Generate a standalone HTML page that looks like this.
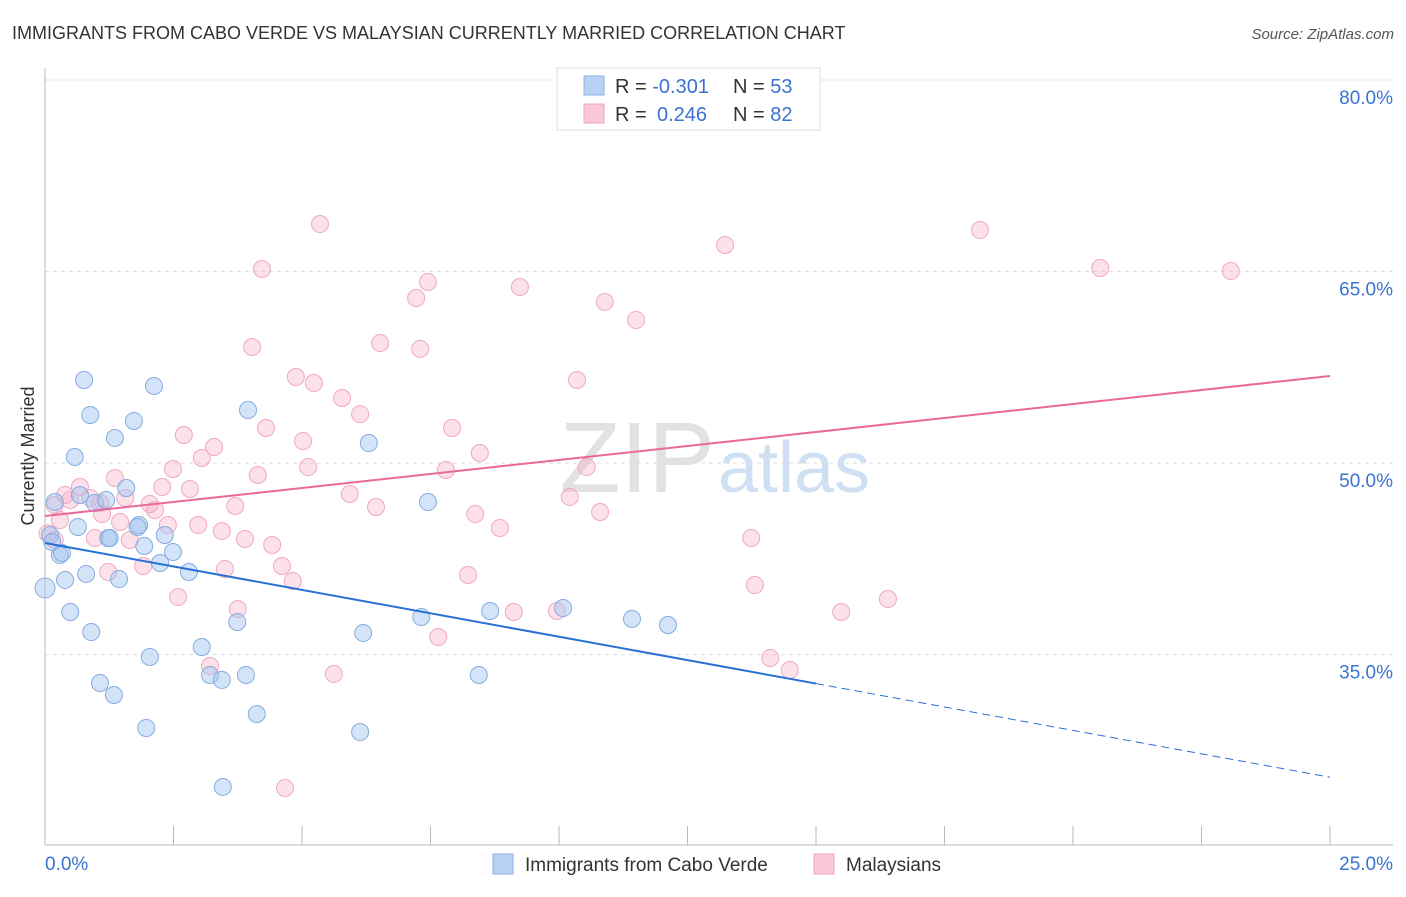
<!DOCTYPE html>
<html><head><meta charset="utf-8"><style>
body{margin:0;background:#fff;font-family:"Liberation Sans",sans-serif;}
svg text{font-family:"Liberation Sans",sans-serif;}
</style></head><body>
<svg id="chart" width="1406" height="892" xmlns="http://www.w3.org/2000/svg">
<text x="12" y="39" font-size="18" fill="#333">IMMIGRANTS FROM CABO VERDE VS MALAYSIAN CURRENTLY MARRIED CORRELATION CHART</text>
<text x="1394" y="39" font-size="15" fill="#555" font-style="italic" text-anchor="end">Source: ZipAtlas.com</text>
<text x="715" y="492" font-size="100" fill="#e2e2e2" text-anchor="end" font-family="Liberation Serif">ZIP</text>
<text x="718" y="492" font-size="72" fill="#cfe0f4">atlas</text>
<text transform="translate(34,456) rotate(-90)" font-size="18" fill="#333" text-anchor="middle">Currently Married</text>
<g id="grid"></g><g id="axes"></g><g id="pts"></g><g id="lines"></g>
<g>
<rect x="557" y="68" width="263" height="62" fill="#fff" stroke="#ddd"/>
<rect x="584" y="76" width="20" height="19" fill="#b8d2f4" stroke="#8ab0e0"/>
<rect x="584" y="104" width="20" height="19" fill="#f8c8d8" stroke="#f0a0bc"/>
<text x="615" y="93" font-size="20" fill="#333">R = <tspan fill="#3a73d0">-0.301</tspan><tspan x="733">N = </tspan><tspan fill="#3a73d0">53</tspan></text>
<text x="615" y="121" font-size="20" fill="#333">R = <tspan x="657" fill="#3a73d0">0.246</tspan><tspan x="733">N = </tspan><tspan fill="#3a73d0">82</tspan></text>
</g>
<g>
<rect x="493" y="854" width="20" height="20" fill="#b8d2f4" stroke="#8ab0e0"/>
<text x="525" y="871" font-size="19" fill="#333">Immigrants from Cabo Verde</text>
<rect x="814" y="854" width="20" height="20" fill="#f8c8d8" stroke="#f0a0bc"/>
<text x="846" y="871" font-size="19" fill="#333">Malaysians</text>
</g>
</svg>
<script>
const blueX=[0,0.19,0.10,0.29,0.39,0.49,0.58,0.64,0.68,0.76,0.80,0.88,0.90,0.97,1.07,1.19,1.23,1.34,1.36,1.44,1.58,1.73,1.83,1.93,1.97,2.04,2.12,2.24,2.33,2.49,2.80,3.05,3.21,3.44,3.74,3.91,3.95,4.12,3.46,6.13,6.19,6.30,7.32,7.45,8.44,8.66,10.08,11.42,12.12,0.14,0.33,1.26,1.80];
const blueY=[40.22,46.95,44.37,42.8,40.85,38.34,50.48,45.0,47.5,56.51,41.32,53.77,36.77,46.88,32.78,47.11,44.13,31.84,51.97,40.92,48.05,53.3,45.15,43.51,29.26,34.82,56.04,42.18,44.37,43.04,41.47,35.6,33.41,33.02,37.56,33.41,54.16,30.35,24.64,28.94,36.7,51.57,37.95,46.95,33.41,38.42,38.65,37.8,37.32,43.82,42.96,44.13,45.0];
const pinkX=[5.35,4.22,7.45,7.22,9.24,10.89,11.50,13.23,18.19,20.53,23.07,4.03,6.52,7.30,4.88,5.23,10.35,5.78,6.13,4.30,2.70,5.02,3.29,7.92,8.46,3.05,2.49,5.12,4.14,7.80,10.54,1.36,0.68,2.28,2.82,5.93,10.21,0.39,0.88,1.56,1.07,2.04,3.70,6.44,0.19,2.14,8.37,10.80,1.11,1.46,2.39,2.98,8.85,3.44,0.97,1.65,3.89,4.42,1.91,1.23,3.50,4.61,8.23,4.82,13.74,13.81,2.59,3.75,9.12,9.96,15.49,16.40,7.65,3.21,5.62,14.11,14.49,4.67,0.29,0.49,0.19,0.05];
const pinkY=[68.72,65.2,64.18,62.93,63.79,62.62,61.21,67.08,68.25,65.28,65.04,59.09,59.4,58.94,56.74,56.27,56.51,55.1,53.84,52.75,52.2,51.73,51.26,52.75,50.79,50.4,49.54,49.69,49.07,49.46,49.69,48.83,48.13,48.13,47.97,47.58,47.35,47.5,47.27,47.27,46.88,46.8,46.64,46.56,46.72,46.33,46.01,46.17,46.01,45.39,45.15,45.15,44.92,44.68,44.13,43.98,44.06,43.59,41.94,41.47,41.71,41.94,41.24,40.77,44.13,40.45,39.51,38.57,38.34,38.42,38.34,39.36,36.38,34.11,33.49,34.74,33.8,24.56,45.54,47.11,43.98,44.5];
const yTicks=[80,65,50,35];
const xTickVals=[0,2.5,5,7.5,10,12.5,15,17.5,20,22.5,25];
const blueTrend=[43.74,25.4];
const pinkTrend=[45.86,56.82];
const blueSolidEnd=15;
const NS='http://www.w3.org/2000/svg';
const xS=v=>45+v*51.4;
const yS=v=>80+(80-v)*12.77;
function mk(tag,attrs,parent){const e=document.createElementNS(NS,tag);for(const k in attrs)e.setAttribute(k,attrs[k]);document.getElementById(parent).appendChild(e);return e;}
yTicks.forEach(t=>{
 const l=mk('line',{x1:45,x2:1393,y1:yS(t),y2:yS(t),stroke:'#ddd','stroke-dasharray':'4,4'},'grid');
 
 
 const tx=mk('text',{x:1393,y:yS(t)+24,'font-size':19,fill:'#3a73d0','text-anchor':'end'},'grid');
 tx.textContent=t.toFixed(1)+'%';
 
 
});
const ax=mk('line',{x1:45,x2:45,y1:68,y2:845,stroke:'#bbb'},'axes');


const bx=mk('line',{x1:45,x2:1393,y1:845,y2:845,stroke:'#bbb'},'axes');


xTickVals.forEach(v=>{
 const t=mk('line',{x1:xS(v),x2:xS(v),y1:826,y2:845,stroke:'#bbb'},'axes');
 
 
});
[[0,'start','0.0%'],[25,'end','25.0%']].forEach(a=>{
 const t=mk('text',{x:a[0]==0?45:1393,y:870,'font-size':19,fill:'#3a73d0','text-anchor':a[1]},'axes');
 t.textContent=a[2];
 
 
});
pinkX.forEach((x,i)=>{
 const c=mk('circle',{cx:xS(x),cy:yS(pinkY[i]),r:8.5,fill:'rgba(245,170,195,0.35)',stroke:'#f0a8c0','stroke-width':1},'pts');
 
 
});
blueX.forEach((x,i)=>{
 const c=mk('circle',{cx:xS(x),cy:yS(blueY[i]),r:i==0?10:8.5,fill:'rgba(160,195,240,0.45)',stroke:'#85ace0','stroke-width':1},'pts');
 
 
});
const bAt=v=>blueTrend[0]+(blueTrend[1]-blueTrend[0])*v/25;
const l1=mk('line',{x1:xS(0),y1:yS(bAt(0)),x2:xS(blueSolidEnd),y2:yS(bAt(blueSolidEnd)),stroke:'#2a6fd6','stroke-width':2},'lines');


const l2=mk('line',{x1:xS(blueSolidEnd),y1:yS(bAt(blueSolidEnd)),x2:xS(25),y2:yS(bAt(25)),stroke:'#2a6fd6','stroke-width':1,'stroke-dasharray':'8,5'},'lines');


const l3=mk('line',{x1:xS(0),y1:yS(pinkTrend[0]),x2:xS(25),y2:yS(pinkTrend[1]),stroke:'#e8699a','stroke-width':2},'lines');


</script>
</body></html>
